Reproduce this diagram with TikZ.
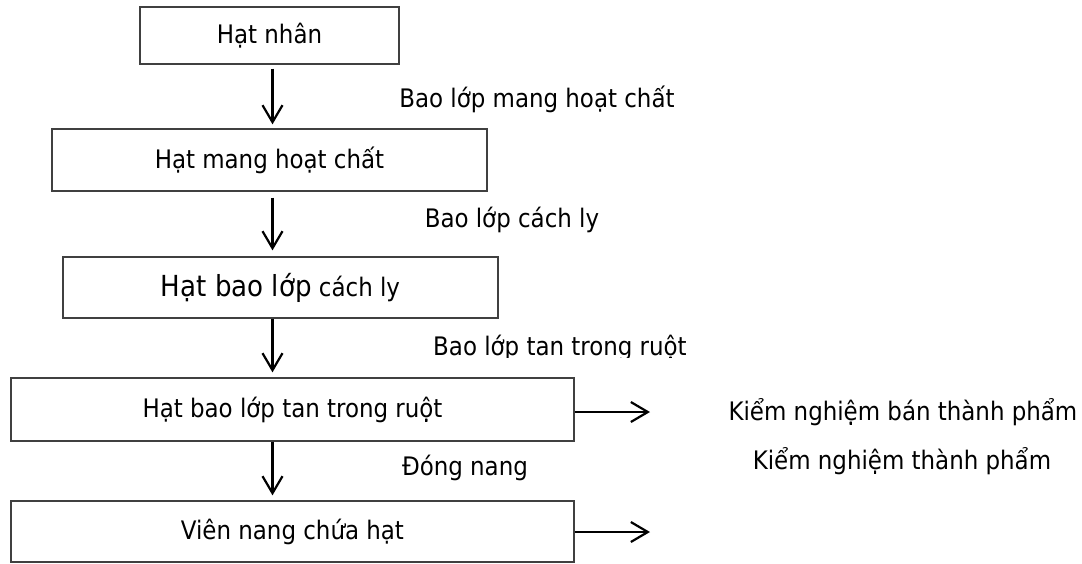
\documentclass[tikz,border=0pt]{standalone}
\usepackage{fontspec}
\setmainfont{DejaVu Sans Condensed}
\usetikzlibrary{arrows.meta}
\tikzset{
  stage/.style={draw=black!75, line width=1.3pt, inner sep=0pt, font=\fontsize{25.5}{30}\selectfont},
  lbl/.style={inner sep=0pt, font=\fontsize{25.5}{30}\selectfont},
  arr/.style={line width=2.2pt, -{Straight Barb[length=17pt,width=20pt,line width=2.2pt]}},
}
\begin{document}
\begin{tikzpicture}[x=1pt,y=-1pt]
  \useasboundingbox (0,0) rectangle (1082,563);

  % process stages
  \node[stage, minimum width=259pt, minimum height=57pt] (b1) at (269.5,35.5) {Hạt nhân};
  \node[stage, minimum width=435pt, minimum height=62pt] (b2) at (269.5,160) {Hạt mang hoạt chất};
  \node[stage, minimum width=435pt, minimum height=61pt] (b3) at (280.5,287.5)
    {{\fontsize{29}{33}\selectfont Hạt bao lớp} cách ly};
  \node[stage, minimum width=563pt, minimum height=63pt] (b4) at (292.5,409.5) {Hạt bao lớp tan trong ruột};
  \node[stage, minimum width=563pt, minimum height=61pt] (b5) at (292.5,531.5) {Viên nang chứa hạt};

  % column of the downward arrows and ends of the side arrows
  \coordinate (col) at (272.5,0);
  \coordinate (e4) at (650,412);
  \coordinate (e5) at (650,532);

  \draw[arr, shorten <=4pt, shorten >=4pt] (b1.south -| col) -- (b2.north -| col);
  \draw[arr, shorten <=6pt, shorten >=6pt] (b2.south -| col) -- (b3.north -| col);
  \draw[arr, shorten >=5pt] (b3.south -| col) -- (b4.north -| col);
  \draw[arr, shorten >=5pt] (b4.south -| col) -- (b5.north -| col);
  \draw[arr] (b4.east |- e4) -- (e4);
  \draw[arr] (b5.east |- e5) -- (e5);

  % step labels
  \node[lbl] (l1) at (537,99) {Bao lớp mang hoạt chất};
  \node[lbl] (l2) at (512,220) {Bao lớp cách ly};
  \begin{scope}
    \clip (380,320) rectangle (720,357);
    \node[lbl, anchor=base] (l3) at (560,355) {Bao lớp tan trong ruột};
  \end{scope}
  \node[lbl] (l4) at (465,468) {Đóng nang};
  \node[lbl] (q1) at (903,412) {Kiểm nghiệm bán thành phẩm};
  \node[lbl] (q2) at (902,461) {Kiểm nghiệm thành phẩm};
\end{tikzpicture}
\end{document}
